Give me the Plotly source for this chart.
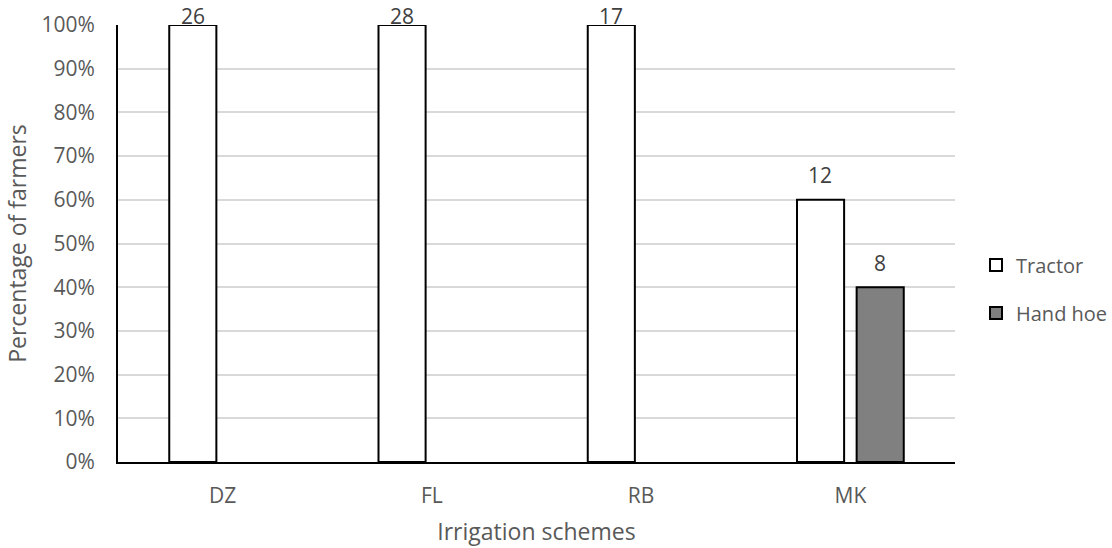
import plotly.graph_objects as go

# Farmers per irrigation scheme by land preparation method
schemes = ["DZ", "FL", "RB", "MK"]
tractor_counts = [26, 28, 17, 12]
hand_hoe_counts = [0, 0, 0, 8]
y_ticks = [0, 0.1, 0.2, 0.3, 0.4, 0.5, 0.6, 0.7, 0.8, 0.9, 1.0]

totals = [t + h for t, h in zip(tractor_counts, hand_hoe_counts)]
tractor_pct = [t / n for t, n in zip(tractor_counts, totals)]
hand_hoe_pct = [h / n for h, n in zip(hand_hoe_counts, totals)]

FONT = "Open Sans"
GREY_TXT = "#595959"
LABEL_TXT = "#404040"

W, H = 1112, 548
M_L, M_R, M_T, M_B = 118, 157, 25, 86
PLOT_H = H - M_T - M_B

fig = go.Figure()
fig.add_trace(go.Bar(
    x=schemes, y=[p if p > 0 else None for p in tractor_pct], name="Tractor",
    marker=dict(color="#ffffff", line=dict(color="#000000", width=2)),
    legendgroup="a",
))
fig.add_trace(go.Bar(
    x=schemes, y=[p if p > 0 else None for p in hand_hoe_pct], name="Hand hoe",
    marker=dict(color="#808080", line=dict(color="#000000", width=2)),
    legendgroup="b",
))

# count labels above each bar, held inside the top of the figure
def add_labels(counts, pcts, xshift):
    for cat, c, p in zip(schemes, counts, pcts):
        if c == 0:
            continue
        bar_top = M_T + (1 - p) * PLOT_H
        centre = max(bar_top - 24.5, 16)
        fig.add_annotation(
            x=cat, y=p, xref="x", yref="y", text=str(c), showarrow=False,
            xshift=xshift, yshift=bar_top - centre, yanchor="middle",
            font=dict(family=FONT, size=21, color=LABEL_TXT),
        )

add_labels(tractor_counts, tractor_pct, -30)
add_labels(hand_hoe_counts, hand_hoe_pct, 30)

fig.update_layout(
    width=W, height=H,
    margin=dict(l=M_L, r=M_R, t=M_T, b=M_B, autoexpand=False),
    paper_bgcolor="#ffffff", plot_bgcolor="#ffffff",
    barmode="group", bargap=0.43, bargroupgap=0.21,
    font=dict(family=FONT, size=21, color=GREY_TXT),
    showlegend=True,
    legend=dict(
        xref="container", yref="container", x=976 / W, y=1 - 289 / H,
        xanchor="left", yanchor="middle", tracegroupgap=19,
        font=dict(family=FONT, size=20, color=GREY_TXT),
        bgcolor="rgba(0,0,0,0)", borderwidth=0,
    ),
    xaxis=dict(
        showline=True, linecolor="#000000", linewidth=2,
        showgrid=False, ticks="", ticklabelstandoff=14,
        tickfont=dict(family=FONT, size=21, color=GREY_TXT),
        title=dict(text="Irrigation schemes", standoff=16,
                   font=dict(family=FONT, size=23, color=GREY_TXT)),
    ),
    yaxis=dict(
        range=[0, 1], tickvals=y_ticks, tickformat=".0%",
        showline=True, linecolor="#000000", linewidth=2,
        showgrid=True, gridcolor="#d9d9d9", gridwidth=1.5,
        zeroline=False, ticks="", ticklabelstandoff=17,
        tickfont=dict(family=FONT, size=21, color=GREY_TXT),
        title=dict(text="Percentage of farmers", standoff=8,
                   font=dict(family=FONT, size=23, color=GREY_TXT)),
    ),
)

fig.write_html("out.html")
